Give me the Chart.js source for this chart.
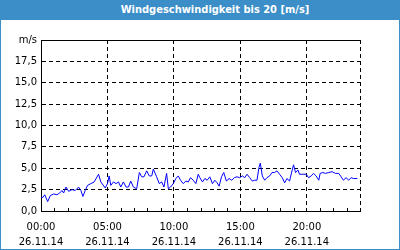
<!DOCTYPE html>
<html>
<head>
<meta charset="utf-8">
<script src="https://cdn.jsdelivr.net/npm/chart.js@4.4.1/dist/chart.umd.min.js"></script>
<style>
  html, body { margin: 0; padding: 0; background: #fff; }
  #frame { position: relative; width: 398px; height: 229px; border: 1px solid #3b8ec8; border-top: 0; padding-top: 20px; }
  #title { position: absolute; left: -1px; top: 0; width: 400px; height: 20px; background: #3b8ec8;
           color: #fff; font: bold 11px "DejaVu Sans Condensed", "DejaVu Sans", sans-serif;
           line-height: 20px; text-align: center; box-sizing: border-box; padding-left: 30px; }
  canvas { display: block; }
</style>
</head>
<body>
<div id="frame">
  <div id="title">Windgeschwindigkeit bis 20 [m/s]</div>
  <canvas id="wind" width="398" height="229"></canvas>
</div>
<script>
// Zeit in Stunden ab 00:00 (26.11.14), Wind in m/s
const hours = [0, 0.15, 0.28, 0.5, 0.7, 0.95, 1.2, 1.4, 1.58, 1.7, 1.88, 2.08, 2.33, 2.58, 2.83, 3.0, 3.15, 3.33, 3.5, 3.75,
  4.0, 4.33, 4.5, 4.83, 5.0, 5.13, 5.25, 5.45, 5.65, 5.83, 6.0, 6.2, 6.4, 6.58, 6.75, 6.95, 7.2, 7.4, 7.58, 7.75,
  7.95, 8.15, 8.33, 8.45, 8.7, 8.9, 9.08, 9.25, 9.45, 9.58, 9.75, 9.95, 10.15, 10.33, 10.5, 10.7, 10.9, 11.08, 11.25, 11.45,
  11.65, 11.83, 11.95, 12.15, 12.33, 12.5, 12.7, 12.9, 13.08, 13.25, 13.4, 13.58, 13.75, 13.95, 14.15, 14.35, 14.55, 14.75, 14.95, 15.15,
  15.33, 15.5, 15.7, 15.9, 16.08, 16.25, 16.4, 16.5, 16.65, 16.83, 17.0, 17.2, 17.38, 17.58, 17.75, 17.95, 18.15, 18.33, 18.5, 18.7,
  18.9, 19.0, 19.15, 19.33, 19.45, 19.7, 19.95, 20.13, 20.33, 20.5, 20.7, 20.9, 21.0, 21.2, 21.4, 21.65, 21.9, 22.15, 22.4, 22.58,
  22.75, 22.95, 23.15, 23.33, 23.5, 23.7, 23.8];
const speeds = [1.55, 1.6, 1.9, 1.1, 1.8, 2.0, 1.9, 2.1, 2.4, 2.1, 2.8, 2.3, 2.5, 2.4, 2.8, 2.4, 1.7, 2.4, 3.0, 3.2,
  3.4, 4.3, 3.4, 2.7, 3.2, 4.1, 3.0, 3.4, 3.2, 3.4, 2.8, 3.4, 2.8, 2.8, 3.5, 2.8, 2.6, 4.5, 4.0, 4.0,
  4.7, 4.1, 4.1, 4.9, 4.0, 3.2, 3.4, 2.8, 4.4, 2.6, 2.8, 3.2, 3.8, 4.1, 3.6, 3.2, 3.5, 3.4, 3.9, 3.6,
  3.2, 4.3, 3.9, 3.4, 3.8, 3.6, 4.0, 3.2, 3.6, 3.3, 2.9, 4.0, 4.5, 3.5, 3.8, 3.6, 3.9, 4.0, 3.9, 4.1,
  3.9, 4.3, 3.9, 3.5, 3.6, 3.6, 5.1, 5.6, 4.1, 3.6, 3.9, 4.1, 4.5, 4.5, 4.7, 4.3, 3.9, 3.3, 3.8, 3.5,
  4.8, 5.4, 4.5, 4.8, 4.3, 4.3, 4.3, 3.9, 4.1, 4.4, 4.1, 3.6, 4.4, 4.5, 4.4, 4.5, 4.6, 4.4, 4.4, 4.0,
  3.6, 3.9, 3.6, 3.9, 3.8, 3.8, 3.8];

const xTickLabels = ['00:00', '05:00', '10:00', '15:00', '20:00'];
const dateLabel = '26.11.14';
const yTickLabels = ['0,0', '2,5', '5,0', '7,5', '10,0', '12,5', '15,0', '17,5', 'm/s'];

Chart.defaults.font.family = '"DejaVu Sans", sans-serif';
Chart.defaults.font.size = 10;
Chart.defaults.color = '#000';

// obere Linie durchgezogen, kleine Stundenstriche innen an der x-Achse
const frameLines = {
  id: 'frameLines',
  afterDraw(chart) {
    const { ctx, chartArea: a, scales } = chart;
    ctx.save();
    ctx.strokeStyle = '#000';
    ctx.lineWidth = 1;
    ctx.beginPath();
    ctx.moveTo(a.left, a.top + 0.5);
    ctx.lineTo(a.right, a.top + 0.5);
    for (let h = 1; h < 24; h++) {
      if (h % 5 === 0) continue;
      const x = Math.round(scales.x.getPixelForValue(h)) + 0.5;
      ctx.moveTo(x, a.bottom);
      ctx.lineTo(x, a.bottom - 3);
    }
    ctx.stroke();
    ctx.restore();
  }
};

new Chart(document.getElementById('wind'), {
  type: 'line',
  data: {
    datasets: [{
      data: hours.map((h, i) => ({ x: h, y: speeds[i] })),
      borderColor: '#0000ff',
      borderWidth: 1,
      pointRadius: 0,
      tension: 0
    }]
  },
  options: {
    responsive: false,
    animation: false,
    layout: { padding: { left: 0, right: 39, top: 20, bottom: 0 } },
    plugins: { legend: { display: false }, tooltip: { enabled: false } },
    scales: {
      x: {
        type: 'linear',
        min: 0,
        max: 24,
        afterFit(scale) { scale.height = 38; },
        ticks: {
          stepSize: 1,
          autoSkip: false,
          maxRotation: 0,
          padding: 9,
          font: { lineHeight: 1.5 },
          callback: v => (v % 5 === 0 && v < 24) ? [xTickLabels[v / 5], dateLabel] : ''
        },
        grid: {
          drawTicks: false,
          color: c => (c.tick && ((c.tick.value % 5 === 0 && c.tick.value > 0) || c.tick.value === 24)) ? '#000' : 'rgba(0,0,0,0)'
        },
        border: { color: '#000', width: 1, dash: [4, 3] }
      },
      y: {
        min: 0,
        max: 20,
        afterFit(scale) { scale.width = 40; },
        ticks: {
          stepSize: 2.5,
          padding: 4,
          callback: (v, i) => yTickLabels[i]
        },
        grid: {
          drawTicks: false,
          color: c => (c.tick && c.tick.value > 0 && c.tick.value < 20) ? '#000' : 'rgba(0,0,0,0)'
        },
        border: { color: '#000', width: 1, dash: [4, 3] }
      }
    }
  },
  plugins: [frameLines]
});
</script>
</body>
</html>
